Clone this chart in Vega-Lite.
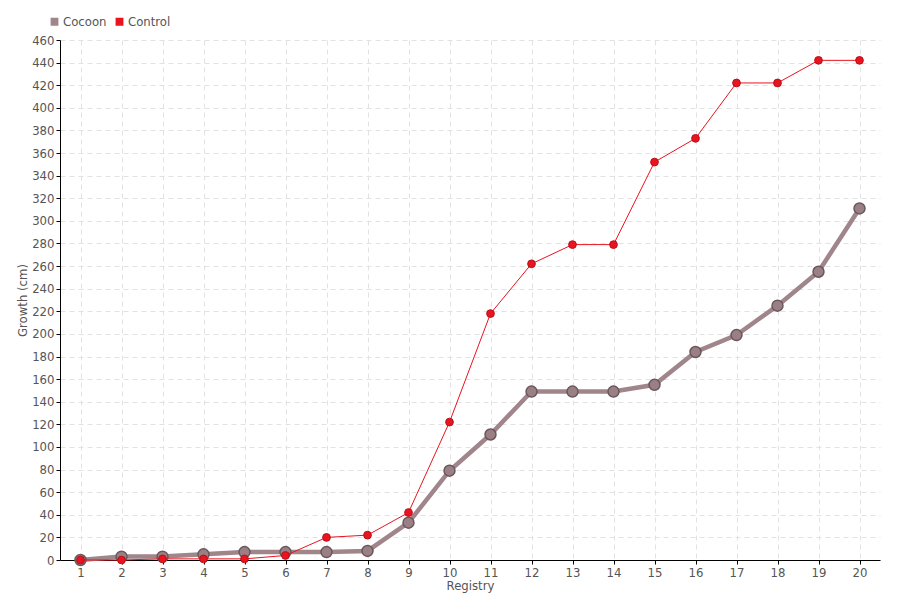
{
  "$schema": "https://vega.github.io/schema/vega-lite/v6.json",
  "width": 820,
  "height": 520,
  "autosize": {"type": "none"},
  "padding": {"left": 60, "top": 40, "right": 20, "bottom": 40},
  "background": "white",
  "config": {
    "font": "DejaVu Sans Condensed",
    "view": {"stroke": null},
    "axis": {
      "labelColor": "#555555",
      "titleColor": "#555555",
      "labelFontSize": 13,
      "titleFontSize": 13,
      "titleFontWeight": "normal",
      "domainColor": "#000000",
      "tickColor": "#000000",
      "gridColor": "#e2e2e2",
      "gridDash": [5, 4],
      "gridWidth": 1
    }
  },
  "data": {
    "values": [
      {"registry": 1, "series": "Cocoon", "growth": 0},
      {"registry": 2, "series": "Cocoon", "growth": 3},
      {"registry": 3, "series": "Cocoon", "growth": 3},
      {"registry": 4, "series": "Cocoon", "growth": 5},
      {"registry": 5, "series": "Cocoon", "growth": 7},
      {"registry": 6, "series": "Cocoon", "growth": 7},
      {"registry": 7, "series": "Cocoon", "growth": 7},
      {"registry": 8, "series": "Cocoon", "growth": 8},
      {"registry": 9, "series": "Cocoon", "growth": 33},
      {"registry": 10, "series": "Cocoon", "growth": 79},
      {"registry": 11, "series": "Cocoon", "growth": 111},
      {"registry": 12, "series": "Cocoon", "growth": 149},
      {"registry": 13, "series": "Cocoon", "growth": 149},
      {"registry": 14, "series": "Cocoon", "growth": 149},
      {"registry": 15, "series": "Cocoon", "growth": 155},
      {"registry": 16, "series": "Cocoon", "growth": 184},
      {"registry": 17, "series": "Cocoon", "growth": 199},
      {"registry": 18, "series": "Cocoon", "growth": 225},
      {"registry": 19, "series": "Cocoon", "growth": 255},
      {"registry": 20, "series": "Cocoon", "growth": 311},
      {"registry": 1, "series": "Control", "growth": 0},
      {"registry": 2, "series": "Control", "growth": 0},
      {"registry": 3, "series": "Control", "growth": 1},
      {"registry": 4, "series": "Control", "growth": 1},
      {"registry": 5, "series": "Control", "growth": 1},
      {"registry": 6, "series": "Control", "growth": 4},
      {"registry": 7, "series": "Control", "growth": 20},
      {"registry": 8, "series": "Control", "growth": 22},
      {"registry": 9, "series": "Control", "growth": 42},
      {"registry": 10, "series": "Control", "growth": 122},
      {"registry": 11, "series": "Control", "growth": 218},
      {"registry": 12, "series": "Control", "growth": 262},
      {"registry": 13, "series": "Control", "growth": 279},
      {"registry": 14, "series": "Control", "growth": 279},
      {"registry": 15, "series": "Control", "growth": 352},
      {"registry": 16, "series": "Control", "growth": 373},
      {"registry": 17, "series": "Control", "growth": 422},
      {"registry": 18, "series": "Control", "growth": 422},
      {"registry": 19, "series": "Control", "growth": 442},
      {"registry": 20, "series": "Control", "growth": 442}
    ]
  },
  "encoding": {
    "x": {
      "field": "registry",
      "type": "ordinal",
      "scale": {"type": "point", "padding": 0.5},
      "axis": {"title": "Registry", "labelAngle": 0, "grid": true, "tickSize": 4, "titlePadding": 0, "labelPadding": 2}
    },
    "y": {
      "field": "growth",
      "type": "quantitative",
      "scale": {"domain": [0, 460], "nice": false},
      "axis": {"title": "Growth (cm)", "values": [0,20,40,60,80,100,120,140,160,180,200,220,240,260,280,300,320,340,360,380,400,420,440,460], "tickSize": 4, "titlePadding": 2, "labelPadding": 2}
    },
    "color": {
      "field": "series",
      "type": "nominal",
      "scale": {"domain": ["Cocoon", "Control"], "range": ["#a0858a", "#e8141f"]},
      "legend": {
        "title": null,
        "orient": "none",
        "legendX": -12,
        "legendY": -25,
        "direction": "horizontal",
        "symbolType": "square",
        "symbolSize": 40,
        "labelFontSize": 13,
        "labelColor": "#555555",
        "columnPadding": 6,
        "labelOffset": 2,
        "symbolOffset": 0
      }
    }
  },
  "layer": [
    {
      "transform": [{"filter": "datum.series === 'Cocoon'"}],
      "mark": {"type": "line", "strokeWidth": 4.5, "color": "#a0858a"},
      "encoding": {}
    },
    {
      "transform": [{"filter": "datum.series === 'Cocoon'"}],
      "mark": {"type": "point", "filled": true, "size": 120, "shape": "circle", "fill": "#9a8085", "stroke": "#6a575b", "strokeWidth": 1.5, "opacity": 1},
      "encoding": {}
    },
    {
      "transform": [{"filter": "datum.series === 'Control'"}],
      "mark": {"type": "line", "strokeWidth": 1, "color": "#f23a48"},
      "encoding": {}
    },
    {
      "transform": [{"filter": "datum.series === 'Control'"}],
      "mark": {"type": "point", "filled": true, "size": 60, "shape": "circle", "fill": "#e8141f", "stroke": "#b8101a", "strokeWidth": 1, "opacity": 1},
      "encoding": {}
    }
  ]
}
